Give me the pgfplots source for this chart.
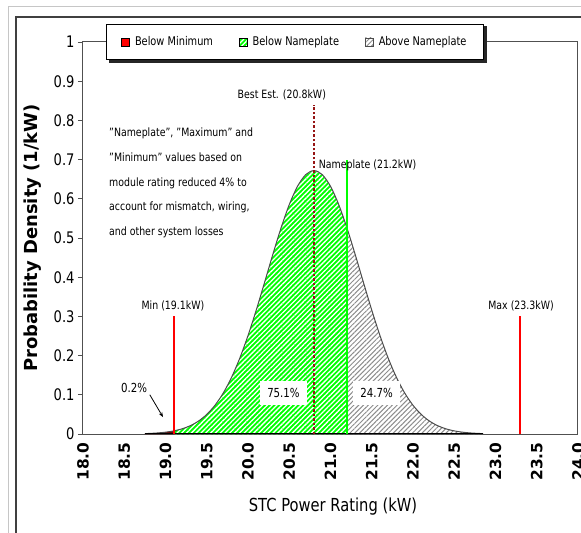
\documentclass[border=0pt]{standalone}
\usepackage{pgfplots}
\pgfplotsset{compat=1.18}
\usetikzlibrary{patterns.meta,arrows.meta}
\usepackage{fontspec}
\setmainfont{DejaVu Sans}[FakeStretch=0.82]
\newfontfamily\rotfont{DejaVu Sans}
\definecolor{bestred}{RGB}{150,20,20}
\definecolor{hatchgray}{RGB}{140,140,140}
\definecolor{axisgray}{RGB}{80,80,80}
\definecolor{minred}{RGB}{110,0,0}
\tikzset{greenhatch/.style={pattern={Lines[angle=45,distance=3.4bp,line width=1.3bp]}, pattern color=white},
         grayhatch/.style={pattern={Lines[angle=45,distance=3.4bp,line width=1bp]}, pattern color=hatchgray}}
\begin{document}
\begin{tikzpicture}
\useasboundingbox (-83bp,-99bp) rectangle (498bp,434bp);
\draw[gray!45, line width=1bp] (-74bp,-110bp) -- (-74bp,427bp) -- (510bp,427bp);
\draw[black!75, line width=1.2bp] (-67bp,-110bp) -- (-67bp,417bp) -- (510bp,417bp);
\begin{axis}[
  scale only axis, width=495bp, height=392bp, clip=false,
  xmin=18, xmax=24, ymin=0, ymax=1,
  xtick={18,18.5,19,19.5,20,20.5,21,21.5,22,22.5,23,23.5,24},
  ytick={0,0.1,0.2,0.3,0.4,0.5,0.6,0.7,0.8,0.9,1},
  /pgf/number format/assume math mode=true,
  xticklabel style={rotate=90, anchor=east, font=\rotfont\bfseries\fontsize{15.5}{17}\selectfont,
     /pgf/number format/.cd, fixed, fixed zerofill, precision=1},
  yticklabel style={font=\fontsize{16}{18}\selectfont},
  xtick style={draw=none},
  ytick pos=left, tick align=outside, major tick length=5bp,
  ytick style={axisgray, line width=0.8bp},
  axis line style={axisgray, line width=1bp},
  xlabel={STC Power Rating (kW)},
  ylabel={Probability Density (1/kW)},
  xlabel style={at={(axis description cs:0.505,-0.186)}, anchor=center, font=\fontsize{18}{20}\selectfont},
  ylabel style={at={(axis description cs:-0.101,0.5)}, anchor=center, font=\rotfont\bfseries\fontsize{18}{20}\selectfont},
  legend columns=3,
  legend style={at={(axis description cs:0.428,1)}, anchor=center, draw=black, line width=0.8bp, fill=white,
     font=\fontsize{12}{14}\selectfont, inner xsep=15bp, inner ysep=10bp,
     /tikz/every even column/.append style={column sep=24bp}},
  legend image code/.code={\draw[#1, line width=0.6bp] (0bp,-4bp) rectangle (8bp,4bp); \path (11bp,0bp);},
]
\addlegendimage{fill=red, draw=black}
\addlegendimage{preaction={fill=green}, greenhatch, draw=black}
\addlegendimage{preaction={fill=white}, grayhatch, draw=black!70}
\legend{Below Minimum, Below Nameplate, Above Nameplate}

% below minimum
\addplot[fill=minred, draw=none, forget plot] coordinates {
(18.75,0.0010) (18.8,0.0014) (18.9,0.0026) (19.0,0.0046) (19.1,0.0079)} \closedcycle;
% below nameplate
\addplot[fill=green, draw=none, forget plot] coordinates {
(19.1,0.0079) (19.2,0.0131) (19.3,0.0211) (19.4,0.0329) (19.5,0.0499) (19.6,0.0733)
(19.7,0.1044) (19.8,0.1442) (19.9,0.1932) (20.0,0.2510) (20.1,0.3161) (20.2,0.3862)
(20.3,0.4574) (20.4,0.5253) (20.5,0.5851) (20.6,0.6319) (20.7,0.6617) (20.8,0.6720)
(20.9,0.6617) (21.0,0.6319) (21.1,0.5851) (21.2,0.5253)} \closedcycle;
\addplot[greenhatch, draw=none, forget plot] coordinates {
(19.1,0.0079) (19.2,0.0131) (19.3,0.0211) (19.4,0.0329) (19.5,0.0499) (19.6,0.0733)
(19.7,0.1044) (19.8,0.1442) (19.9,0.1932) (20.0,0.2510) (20.1,0.3161) (20.2,0.3862)
(20.3,0.4574) (20.4,0.5253) (20.5,0.5851) (20.6,0.6319) (20.7,0.6617) (20.8,0.6720)
(20.9,0.6617) (21.0,0.6319) (21.1,0.5851) (21.2,0.5253)} \closedcycle;
% above nameplate
\addplot[grayhatch, draw=none, forget plot] coordinates {
(21.2,0.5253) (21.3,0.4574) (21.4,0.3862) (21.5,0.3161) (21.6,0.2510) (21.7,0.1932)
(21.8,0.1442) (21.9,0.1044) (22.0,0.0733) (22.1,0.0499) (22.2,0.0329) (22.3,0.0211)
(22.4,0.0131) (22.5,0.0079) (22.6,0.0046) (22.7,0.0026) (22.8,0.0014) (22.85,0.0010)} \closedcycle;
% outline
\addplot[black!70, line width=1bp, smooth, forget plot] coordinates {
(18.75,0.0010) (18.8,0.0014) (18.9,0.0026) (19.0,0.0046) (19.1,0.0079)
(19.2,0.0131) (19.3,0.0211) (19.4,0.0329) (19.5,0.0499) (19.6,0.0733)
(19.7,0.1044) (19.8,0.1442) (19.9,0.1932) (20.0,0.2510) (20.1,0.3161) (20.2,0.3862)
(20.3,0.4574) (20.4,0.5253) (20.5,0.5851) (20.6,0.6319) (20.7,0.6617) (20.8,0.6720)
(20.9,0.6617) (21.0,0.6319) (21.1,0.5851) (21.2,0.5253)
(21.3,0.4574) (21.4,0.3862) (21.5,0.3161) (21.6,0.2510) (21.7,0.1932)
(21.8,0.1442) (21.9,0.1044) (22.0,0.0733) (22.1,0.0499) (22.2,0.0329) (22.3,0.0211)
(22.4,0.0131) (22.5,0.0079) (22.6,0.0046) (22.7,0.0026) (22.8,0.0014) (22.85,0.0010)};
\addplot[black, line width=1.6bp, forget plot] coordinates {(18.75,0.001) (22.85,0.001)};
% reference lines
\addplot[red, line width=2bp, forget plot] coordinates {(19.1,0) (19.1,0.30)};
\addplot[red, line width=2bp, forget plot] coordinates {(23.3,0) (23.3,0.30)};
\addplot[green, line width=2bp, forget plot] coordinates {(21.2,0) (21.2,0.70)};
\addplot[bestred, line width=1.6bp, dash pattern=on 2.5bp off 2bp, forget plot] coordinates {(20.8,0) (20.8,0.84)};

% legend shadow
\fill[black!85] (axis cs:18.315,0.946) rectangle (axis cs:22.897,1.041);

% annotations
\node[font=\fontsize{11.5}{13}\selectfont] at (axis cs:20.41,0.865) {Best Est. (20.8kW)};
\node[font=\fontsize{11.5}{13}\selectfont] at (axis cs:21.45,0.686) {Nameplate (21.2kW)};
\node[font=\fontsize{11.5}{13}\selectfont] at (axis cs:19.09,0.327) {Min (19.1kW)};
\node[font=\fontsize{11.5}{13}\selectfont] at (axis cs:23.31,0.327) {Max (23.3kW)};
\node[font=\fontsize{12.5}{14}\selectfont] at (axis cs:18.62,0.117) {0.2\%};
\draw[-{Stealth[length=5bp]}, line width=0.8bp] (axis cs:18.81,0.10) -- (axis cs:18.97,0.043);
\node[fill=white, inner xsep=7bp, inner ysep=7bp, font=\fontsize{12.5}{14}\selectfont] at (axis cs:20.43,0.105) {75.1\%};
\node[fill=white, inner xsep=7bp, inner ysep=7bp, font=\fontsize{12.5}{14}\selectfont] at (axis cs:21.56,0.105) {24.7\%};
\node[anchor=north west, align=left, inner sep=0pt, font=\fontsize{11.5}{24.75}\selectfont] at (axis cs:18.315,0.781)
 {"Nameplate", "Maximum" and\\ "Minimum" values based on\\ module rating reduced 4\% to\\ account for mismatch, wiring,\\ and other system losses};
\end{axis}
\end{tikzpicture}
\end{document}
